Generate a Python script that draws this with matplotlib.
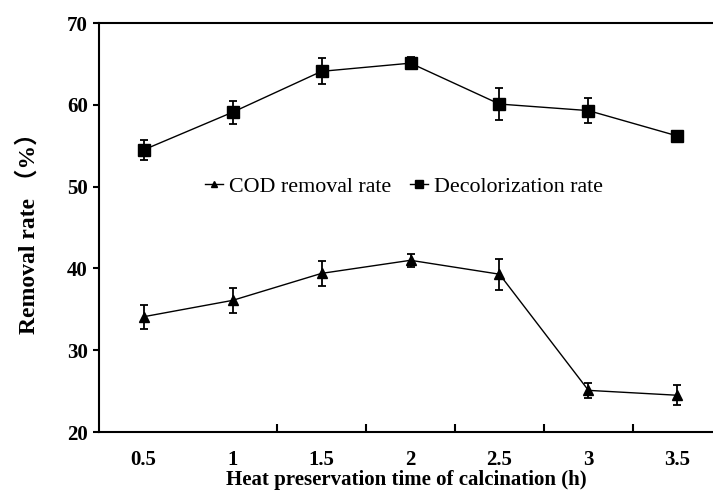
import matplotlib
matplotlib.use("Agg")
import matplotlib.pyplot as plt
from matplotlib.lines import Line2D
import numpy as np

# data
time_labels = ["0.5", "1", "1.5", "2", "2.5", "3", "3.5"]
cod_rate = [34.1, 36.1, 39.4, 41.0, 39.3, 25.1, 24.5]
cod_err = [1.45, 1.5, 1.5, 0.8, 1.9, 0.9, 1.25]
decol_rate = [54.5, 59.1, 64.1, 65.1, 60.1, 59.3, 56.2]
decol_err = [1.2, 1.4, 1.6, 0.7, 2.0, 1.5, 0.6]
y_ticks = [20, 30, 40, 50, 60, 70]

serif = ["Liberation Serif", "DejaVu Serif"]
serif_cjk = ["Liberation Serif", "Noto Sans CJK SC", "DejaVu Serif"]

fig = plt.figure(figsize=(7.13, 4.91), dpi=100)
ax = fig.add_axes([0.139, 0.120, 0.861, 0.833])

x = np.arange(len(time_labels))

ax.errorbar(x, cod_rate, yerr=cod_err, color="black", linewidth=1.0,
            marker="^", markersize=7, capsize=3, elinewidth=1.3, capthick=1.3)
ax.errorbar(x, decol_rate, yerr=decol_err, color="black", linewidth=1.0,
            marker="s", markersize=8, capsize=3, elinewidth=1.3, capthick=1.3)

ax.set_xlim(-0.5, 6.4)
ax.set_ylim(20, 70)

ax.set_xticks(x)
ax.set_xticklabels(time_labels)
ax.set_xticks(np.arange(1.5, 6.0, 1.0), minor=True)
ax.tick_params(axis="x", which="major", length=0, pad=13)
ax.tick_params(axis="x", which="minor", direction="in", length=6, width=1.5)

ax.set_yticks(y_ticks)
ax.tick_params(axis="y", direction="out", length=4, width=1.5, pad=4)

for lab in ax.get_xticklabels() + ax.get_yticklabels():
    lab.set_family(serif)
    lab.set_fontweight("bold")
    lab.set_fontsize(15)

ax.spines["right"].set_visible(False)
for side in ["left", "bottom", "top"]:
    ax.spines[side].set_linewidth(1.5)

ax.set_xlabel("Heat preservation time of calcination (h)", family=serif,
              fontweight="bold", fontsize=15, labelpad=0)
ax.set_ylabel("Removal rate （%）", family=serif_cjk,
              fontweight="bold", fontsize=17, labelpad=20)

handles = [
    Line2D([], [], color="black", linewidth=1.0, marker="^", markersize=5),
    Line2D([], [], color="black", linewidth=1.0, marker="s", markersize=5.5),
]
ax.legend(handles, ["COD removal rate", "Decolorization rate"],
          loc="center left", bbox_to_anchor=(0.173, 0.6), ncol=2, frameon=False,
          prop={"family": serif, "size": 15.8}, handlelength=0.8,
          handletextpad=0.3, columnspacing=0.85, borderpad=0, borderaxespad=0)

fig.savefig("out.png", dpi=100)
